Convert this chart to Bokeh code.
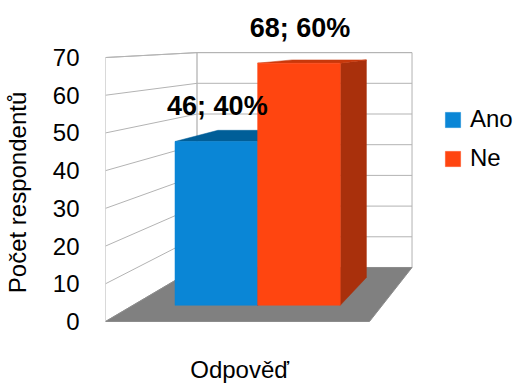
from bokeh.plotting import figure
from bokeh.models import Range1d, FixedTicker, Legend, LegendItem
from bokeh.embed import file_html
from bokeh.resources import INLINE
from bokeh.core.properties import value

# ---- data ----
categories = ["Ano", "Ne"]
counts = [46, 68]
y_ticks = [0, 10, 20, 30, 40, 50, 60, 70]
x_title = "Odpověď"
y_title = "Počet respondentů"

# ---- styles ----
front_colors = ["#0a86d6", "#ff4510"]
top_colors = ["#005e98", "#c8390c"]
side_colors = ["#00507f", "#a9300c"]
grid_color = "#b3b3b3"
floor_color = "#808080"
FONT = "Liberation Sans"

total = sum(counts)
pcts = [round(c * 100 / total) for c in counts]

# ---- simple 3D projection (front plane = axis units) ----
SHIFT_U, SHIFT_V, SHRINK = 0.347, 14.32, 0.186
VMAX = y_ticks[-1]
BAR_T0, BAR_T1 = 0.30, 0.815
BAR_W = 0.3315
LABEL_GAP = 9.3


def proj(u, t, v):
    s = 1 - SHRINK * t
    return SHIFT_U * t + u * s, SHIFT_V * t + v * s


def poly(points):
    xs, ys = zip(*[proj(*pt) for pt in points])
    return list(xs), list(ys)


p = figure(width=517, height=384, output_backend="svg", toolbar_location=None,
           x_range=Range1d(0, 1.5605), y_range=Range1d(-16.71, 85.12),
           x_axis_location=None, min_border_left=103, min_border_right=0,
           min_border_top=0, min_border_bottom=0)
p.outline_line_color = None
p.grid.visible = False
p.background_fill_color = "white"
p.border_fill_color = "white"

ax = p.yaxis[0]
ax.ticker = FixedTicker(ticks=y_ticks)
ax.axis_line_color = None
ax.major_tick_line_color = None
ax.minor_tick_line_color = None
ax.major_label_standoff = 20
ax.major_label_text_font = FONT
ax.major_label_text_font_size = "24px"
ax.major_label_text_color = "black"
ax.axis_label = y_title
ax.axis_label_text_font = FONT
ax.axis_label_text_font_size = "24px"
ax.axis_label_text_font_style = "normal"
ax.axis_label_text_color = "black"
ax.axis_label_standoff = 19

# walls
xs, ys = poly([(0, 0, 0), (0, 0, VMAX), (0, 1, VMAX), (0, 1, 0)])
p.patch(xs, ys, fill_color="white", line_color=grid_color, line_width=1)
xs, ys = poly([(0, 1, 0), (0, 1, VMAX), (1, 1, VMAX), (1, 1, 0)])
p.patch(xs, ys, fill_color="white", line_color=grid_color, line_width=1)
gx, gy = [], []
for v in y_ticks[1:]:
    a, b = poly([(0, 0, v), (0, 1, v), (1, 1, v)])
    gx.append(a)
    gy.append(b)
p.multi_line(gx, gy, line_color=grid_color, line_width=1)

# floor
xs, ys = poly([(0, 0, 0), (1, 0, 0), (1, 1, 0), (0, 1, 0)])
p.patch(xs, ys, fill_color=floor_color, line_color="#8c8c8c", line_width=1)

# bars
front_renderers = []
for i, (cat, v) in enumerate(zip(categories, counts)):
    u0 = 0.5 - BAR_W + i * BAR_W
    u1 = u0 + BAR_W
    t0, t1 = BAR_T0, BAR_T1
    xs, ys = poly([(u1, t0, 0), (u1, t1, 0), (u1, t1, v), (u1, t0, v)])
    p.patch(xs, ys, fill_color=side_colors[i], line_color=side_colors[i], line_width=0.5)
    xs, ys = poly([(u0, t0, v), (u1, t0, v), (u1, t1, v), (u0, t1, v)])
    p.patch(xs, ys, fill_color=top_colors[i], line_color=top_colors[i], line_width=0.5)
    xs, ys = poly([(u0, t0, 0), (u1, t0, 0), (u1, t0, v), (u0, t0, v)])
    r = p.patch(xs, ys, fill_color=front_colors[i], line_color=front_colors[i], line_width=0.5)
    front_renderers.append(r)

# value labels
lx, ly, lt = [], [], []
for i, v in enumerate(counts):
    u0 = 0.5 - BAR_W + i * BAR_W
    cx, cy = proj(u0 + BAR_W / 2, BAR_T0, v)
    lx.append(cx + 0.004)
    ly.append(cy + LABEL_GAP)
    lt.append(f"{v}; {pcts[i]}%")
p.text(lx, ly, text=lt, text_font=value(FONT), text_font_size="27px",
       text_font_style="bold", text_align="center", text_baseline="alphabetic",
       text_color="black")

# x title
tx, ty = proj(0.508, 0, 0)
p.text([tx], [ty - 12.6], text=[x_title], text_font=value(FONT), text_font_size="24px",
       text_align="center", text_baseline="alphabetic", text_color="black")

legend = Legend(items=[LegendItem(label=c, renderers=[r]) for c, r in zip(categories, front_renderers)],
                location=(338, 212), border_line_color=None, background_fill_alpha=0,
                padding=0, margin=0, spacing=11, glyph_width=19, glyph_height=19,
                label_standoff=8, label_text_font=FONT, label_text_font_size="24px",
                label_text_color="black")
p.add_layout(legend)

open("out.html", "w").write(file_html(p, INLINE))
